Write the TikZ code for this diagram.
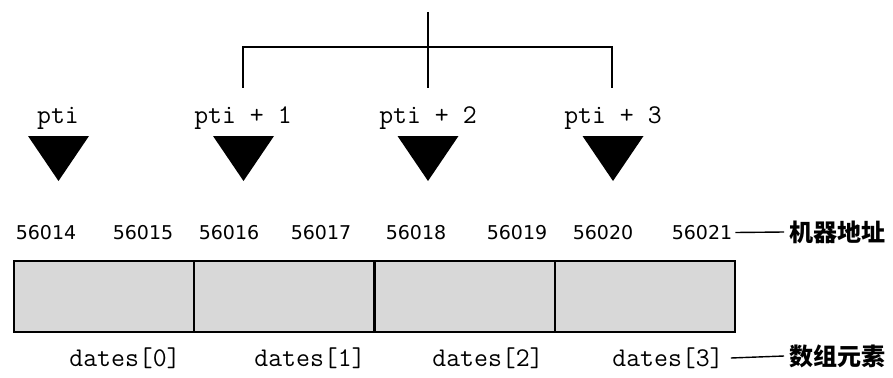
\documentclass[tikz,border=0pt]{standalone}
\usepackage{fontspec}
\usetikzlibrary{calc}
\newfontfamily\codefont{Latin Modern Mono}
\newfontfamily\numfont{DejaVu Sans}
\newfontfamily\cjk{Noto Sans CJK SC}
\definecolor{cellgray}{RGB}{216,216,216}
\begin{document}
\begin{tikzpicture}[x=1pt,y=-1pt,
  ptr/.style={font=\codefont\fontsize{27}{30}\selectfont, inner sep=0pt},
  addr/.style={font=\numfont\fontsize{19}{23}\selectfont, inner sep=0pt},
  tag/.style={font=\cjk\bfseries\fontsize{24}{28}\selectfont, inner sep=0pt, anchor=west},
  cellbox/.style={draw, fill=cellgray, line width=2.4pt, minimum width=180.25pt,
                  minimum height=71pt, inner sep=0pt},
  bracket/.style={line width=1.8pt},
  leader/.style={line width=1.4pt},
  ptrtri/.pic={\fill (-30.5,0) -- (30.5,0) -- (0,45) -- cycle;}
]
\useasboundingbox (0,0) rectangle (893,377);

% bracket joining pti+1 .. pti+3
\coordinate (btop) at (428,12);
\coordinate (hl)   at (243,47);
\coordinate (hr)   at (612,47);
\coordinate (e1)   at (243,88);
\coordinate (e2)   at (428,88);
\coordinate (e3)   at (612,88);
\draw[bracket] (btop) -- (e2);
\draw[bracket] (e1) -- (hl) -- (hr) -- (e3);

% pointer labels and markers
\node[ptr] (p0) at (58,118)  {pti};
\node[ptr] (p1) at (243,118) {pti + 1};
\node[ptr] (p2) at (428,118) {pti + 2};
\node[ptr] (p3) at (613,118) {pti + 3};
\foreach \i/\x in {0/58.5,1/243.5,2/428,3/613}
  \pic (t\i) at (\x,136) {ptrtri};

% machine addresses
\foreach \n/\x in {56014/46,56015/143,56016/229,56017/321,56018/416,56019/517,56020/603,56021/702}
  \node[addr] (a\n) at (\x,232.5) {\n};
\node[tag] (addrtag) at (789,232) {机器地址};
\draw[leader] ($(a56021.east)+(3,0)$) -- ($(addrtag.west)+(-5,0)$);

% array cells
\foreach \i in {0,1,2,3}
  \node[cellbox] (c\i) at ({14+90.125+180.25*\i},296.5) {};

% element names
\node[ptr] (d0) at (125,358) {dates[0]};
\node[ptr] (d1) at (310,358) {dates[1]};
\node[ptr] (d2) at (488,358) {dates[2]};
\node[ptr] (d3) at (668,358) {dates[3]};
\node[tag] (elemtag) at (789,356) {数组元素};
\draw[leader] ($(d3.east)+(7,0)$) -- ($(elemtag.west)+(-5,0)$);
\end{tikzpicture}
\end{document}
